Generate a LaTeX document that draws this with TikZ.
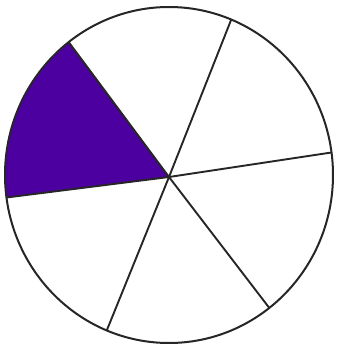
\documentclass[tikz,border=0pt]{standalone}
\usetikzlibrary{calc}
\definecolor{sector}{RGB}{76,0,160}
\begin{document}
\begin{tikzpicture}[x=1pt,y=1pt,
  rim/.style={draw=black!85,line width=2pt},
  spoke/.style={draw=black!85,line width=1.9pt}]
\useasboundingbox (0,0) rectangle (340,354);
\coordinate (o) at (169,179);
\coordinate (c) at (169,177);
\fill[sector] (c) -- ($(o)+(127.7:164 and 168)$) arc[start angle=127.7,end angle=187.7,x radius=164,y radius=168] -- cycle;
\foreach \a in {7.7,67.7,127.7,187.7,247.7,307.7}
  \draw[spoke] (c) -- ($(o)+(\a:164 and 168)$);
\draw[rim] (o) ellipse[x radius=164,y radius=168];
\end{tikzpicture}
\end{document}
